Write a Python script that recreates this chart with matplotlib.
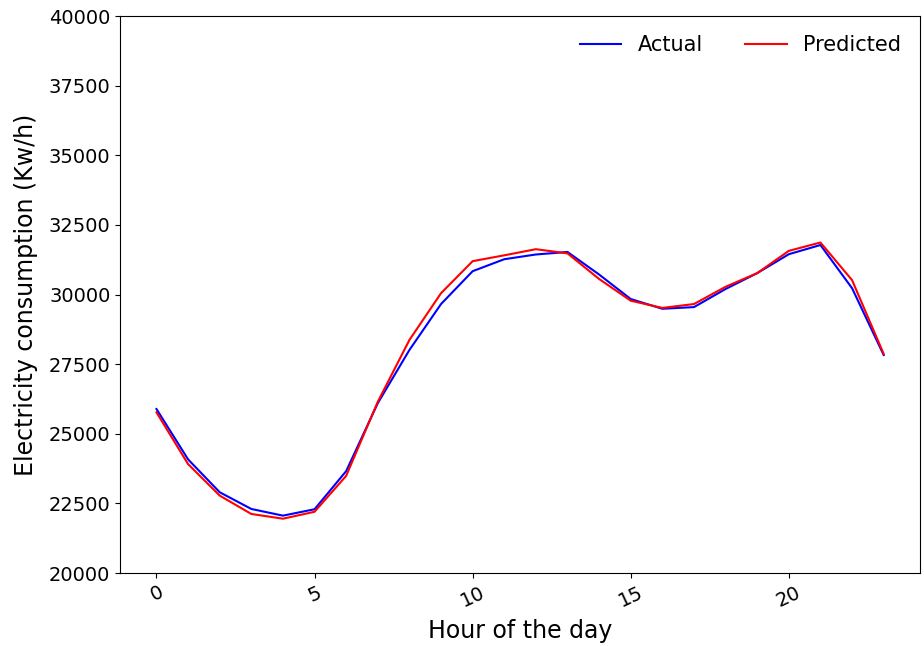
import matplotlib.pyplot as plt

# Hourly electricity consumption
hours = list(range(24))
actual = [25890, 24080, 22900, 22300, 22060, 22290, 23660, 26100,
          28010, 29660, 30840, 31270, 31440, 31530, 30720, 29840,
          29490, 29550, 30200, 30770, 31450, 31780, 30230, 27830]
predicted = [25770, 23910, 22780, 22120, 21950, 22200, 23490, 26150,
             28370, 30050, 31200, 31410, 31630, 31480, 30560, 29780,
             29520, 29660, 30280, 30770, 31570, 31870, 30520, 27870]

fig = plt.figure(figsize=(9.24, 6.46), dpi=100)
ax = fig.add_axes([0.13, 0.113, 0.8657, 0.862])

ax.plot(hours, actual, color='blue', linewidth=1.5, label='Actual')
ax.plot(hours, predicted, color='red', linewidth=1.5, label='Predicted')

ax.set_ylim(20000, 40000)
ax.set_yticks(range(20000, 40001, 2500))
ax.set_xticks([0, 5, 10, 15, 20])
ax.tick_params(axis='both', labelsize=14)
plt.setp(ax.get_xticklabels(), rotation=25)

ax.set_xlabel('Hour of the day', fontsize=17, labelpad=6)
ax.set_ylabel('Electricity consumption (Kw/h)', fontsize=17, labelpad=8)
ax.legend(loc='upper right', ncol=2, frameon=False, fontsize=15)

plt.savefig('out.png', dpi=100)
